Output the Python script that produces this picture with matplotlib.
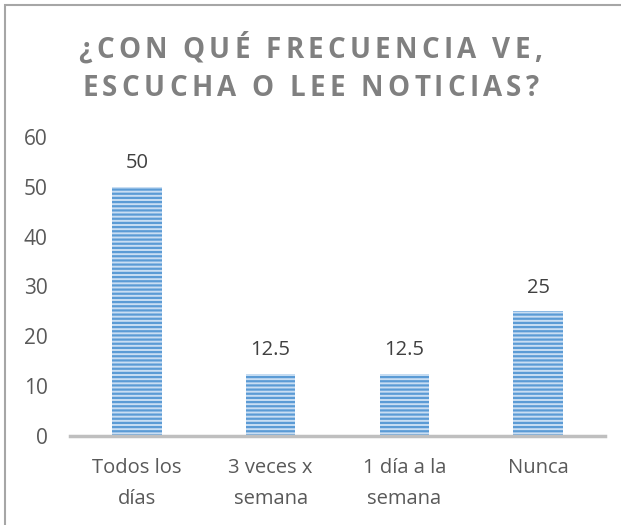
import matplotlib
matplotlib.use("Agg")
import matplotlib.pyplot as plt
from matplotlib.patches import Rectangle
from matplotlib.font_manager import FontProperties

categories = ["Todos los\ndías", "3 veces x\nsemana", "1 día a la\nsemana", "Nunca"]
values = [50, 12.5, 12.5, 25]
yticks = [0, 10, 20, 30, 40, 50, 60]
title_lines = ["¿CON QUÉ FRECUENCIA VE,", "ESCUCHA O LEE NOTICIAS?"]

plt.rcParams["font.family"] = ["Open Sans", "DejaVu Sans"]
plt.rcParams["hatch.linewidth"] = 1.6

fig = plt.figure(figsize=(6.21, 5.25), dpi=100)
W, H = 621, 525

# outer chart frame
fig.patches.append(Rectangle((5 / W, -0.1), 1.2, 1.1 - 5 / H,
                             transform=fig.transFigure, fill=False,
                             edgecolor="#a6a6a6", linewidth=1.5))

ax = fig.add_axes([70 / W, 1 - 436 / H, (605 - 70) / W, (436 - 137) / H])
x = range(len(categories))
bars = ax.bar(x, values, width=0.37, color="#c9def3", edgecolor="#5b9bd5",
              linewidth=0, hatch="----", zorder=2)
ax.set_xlim(-0.5, 3.5)
ax.set_ylim(0, 60)
ax.set_yticks(yticks)
ax.set_xticks(list(x))
ax.set_xticklabels(categories, fontsize=14.5, color="#595959", linespacing=1.75)
ax.tick_params(axis="y", labelsize=15, labelcolor="#595959", length=0, pad=16)
ax.tick_params(axis="x", length=0, pad=16)

for s in ["top", "right", "left"]:
    ax.spines[s].set_visible(False)
ax.spines["bottom"].set_color("#bfbfbf")
ax.spines["bottom"].set_linewidth(2.5)
ax.spines["bottom"].set_zorder(3)

for rect, v in zip(bars, values):
    ax.annotate(f"{v:g}", (rect.get_x() + rect.get_width() / 2, v),
                xytext=(0, 10), textcoords="offset points",
                ha="center", va="bottom", fontsize=14.5, color="#404040")

# letter-spaced title, one glyph at a time
renderer = fig.canvas.get_renderer()
tprop = FontProperties(family=["Open Sans", "DejaVu Sans"], weight="bold", size=20)
spacing = 4.3  # extra px between letters


def prefix_width(s):
    if not s:
        return 0.0
    w, _, _ = renderer.get_text_width_height_descent(s, tprop, ismath=False)
    return w


for line, yc in zip(title_lines, [50, 89]):
    total = prefix_width(line) + spacing * (len(line) - 1)
    x0 = W / 2 - total / 2
    for i, ch in enumerate(line):
        if ch == " ":
            continue
        xp = x0 + prefix_width(line[:i]) + spacing * i
        fig.text(xp / W, 1 - yc / H, ch, ha="left", va="center",
                 fontproperties=tprop, color="#808080")

fig.savefig("out.png", dpi=100)
